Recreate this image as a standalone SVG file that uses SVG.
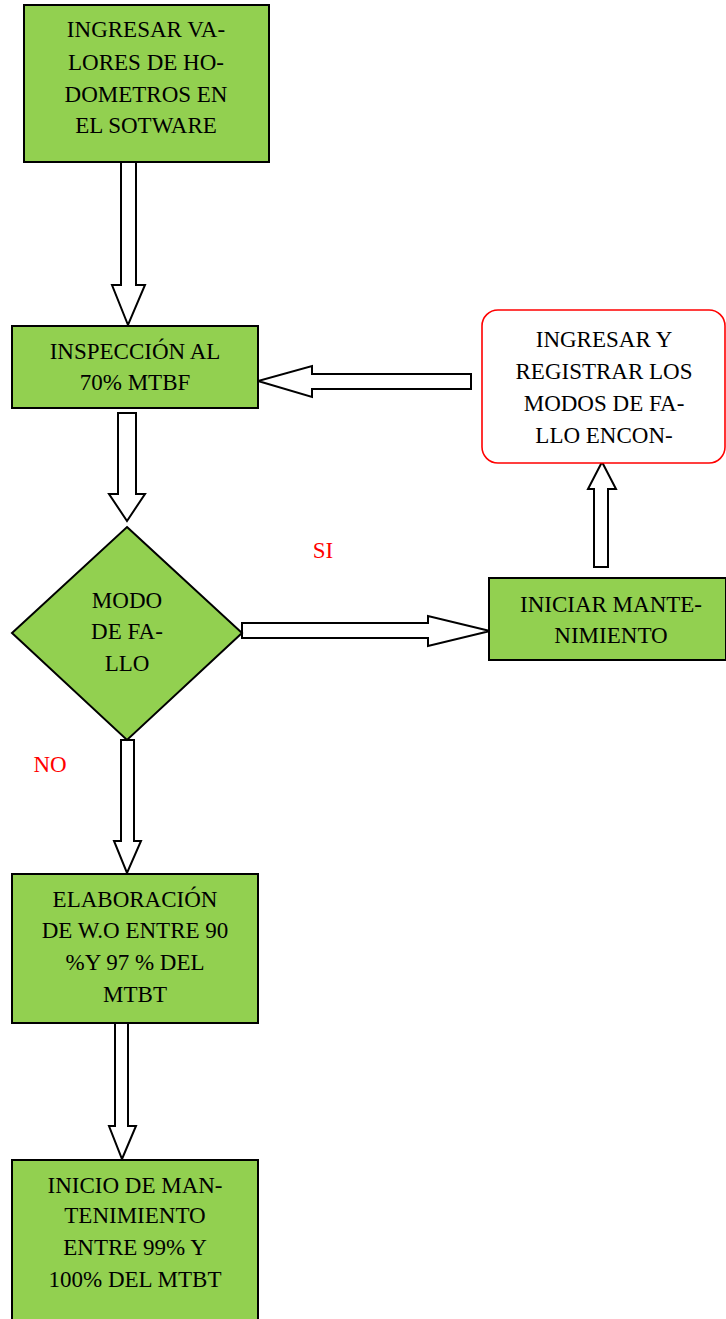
<svg xmlns="http://www.w3.org/2000/svg" width="726" height="1319" viewBox="0 0 726 1319">
<style>
.box{fill:#92D050;stroke:#000;stroke-width:2}
.red{fill:#fff;stroke:#FF0000;stroke-width:1.6}
.arr{fill:#fff;stroke:#000;stroke-width:2;stroke-linejoin:miter}
text{font-family:"Liberation Serif","Times New Roman",serif;font-size:23px;fill:#000;text-anchor:middle}
.lbl{fill:#FF0000}
</style>
<rect width="726" height="1319" fill="#fff"/>
<g id="connectors">
<polygon class="arr" points="121,162 136,162 136,285 145,285 128,325 112,285 121,285"/>
<polygon class="arr" points="118,413 136,413 136,494 145,494 127,521 109,494 118,494"/>
<polygon class="arr" points="471,374 471,389 312,389 312,397 258,381 312,366 312,374"/>
<polygon class="arr" points="242,623 428,623 428,616 490,631 428,646 428,638 242,638"/>
<polygon class="arr" points="594,567 594,489 588,489 602,462 616,489 608,489 608,567"/>
<polygon class="arr" points="121,740 134,740 134,841 141,841 127,873 114,841 121,841"/>
<polygon class="arr" points="115,1023 128,1023 128,1126 136,1126 122,1159 109,1126 115,1126"/>
</g>
<g id="n1">
<rect class="box" x="24" y="5" width="245" height="157"/>
<text x="146" y="37">INGRESAR VA-</text>
<text x="146" y="70">LORES DE HO-</text>
<text x="146" y="102">DOMETROS EN</text>
<text x="146" y="133">EL SOTWARE</text>
</g>
<g id="n2">
<rect class="box" x="12" y="326" width="246" height="82"/>
<text x="135" y="359">INSPECCIÓN AL</text>
<text x="135" y="390">70% MTBF</text>
</g>
<g id="n3">
<polygon class="box" points="127,527 242,633 127,740 12,633"/>
<text x="127" y="608">MODO</text>
<text x="127" y="639">DE FA-</text>
<text x="127" y="671">LLO</text>
</g>
<g id="n4">
<rect class="box" x="489" y="578" width="237" height="82"/>
<text x="611" y="612">INICIAR MANTE-</text>
<text x="611" y="643">NIMIENTO</text>
</g>
<g id="n5">
<rect class="red" x="482" y="310" width="243" height="153" rx="16" ry="16"/>
<text x="604" y="347">INGRESAR Y</text>
<text x="604" y="379">REGISTRAR LOS</text>
<text x="604" y="411">MODOS DE FA-</text>
<text x="604" y="443">LLO ENCON-</text>
</g>
<g id="n6">
<rect class="box" x="12" y="874" width="246" height="149"/>
<text x="135" y="907">ELABORACIÓN</text>
<text x="135" y="938">DE W.O ENTRE 90</text>
<text x="135" y="970">%Y 97 % DEL</text>
<text x="135" y="1002">MTBT</text>
</g>
<g id="n7">
<rect class="box" x="12" y="1160" width="246" height="170"/>
<text x="135" y="1193">INICIO DE MAN-</text>
<text x="135" y="1223">TENIMIENTO</text>
<text x="135" y="1255">ENTRE 99% Y</text>
<text x="135" y="1287">100% DEL MTBT</text>
</g>
<g id="labels">
<text class="lbl" x="323" y="558">SI</text>
<text class="lbl" x="50" y="772">NO</text>
</g>
</svg>
